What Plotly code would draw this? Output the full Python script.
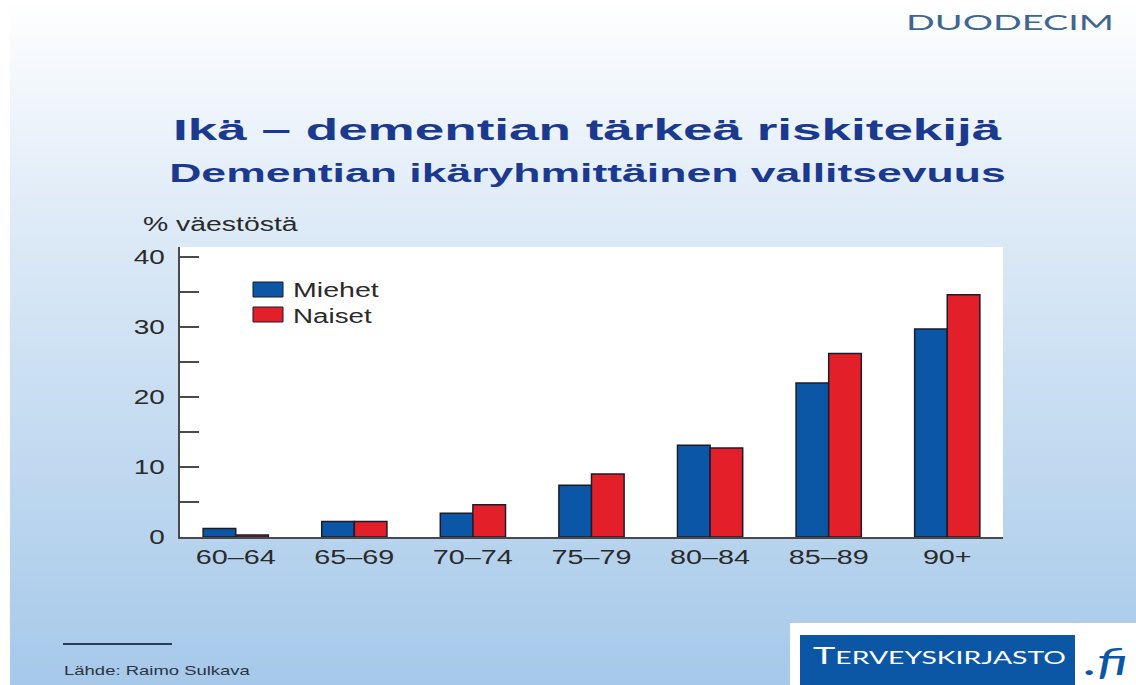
import json
import plotly.graph_objects as go

# ---- data ----
categories = ["60–64", "65–69", "70–74", "75–79", "80–84", "85–89", "90+"]
miehet = [1.2, 2.2, 3.4, 7.4, 13.1, 22.0, 29.7]
naiset = [0.3, 2.2, 4.6, 9.0, 12.7, 26.2, 34.6]
series_names = ["Miehet", "Naiset"]
y_tick_vals = [0, 5, 10, 15, 20, 25, 30, 35, 40]
y_tick_text = ["0", "", "10", "", "20", "", "30", "", "40"]

BLUE = "#0b57a6"
RED = "#e3202a"
OUTLINE = "#1b1b2b"
NAVY = "#1b3a8f"
TXT = "#2a2a2a"
SANS = "Liberation Sans, Arial, sans-serif"

W, H = 1136, 685
L, R, T, B = 180, 1003, 247, 537  # plot area pixel bounds


def px(xp):
    return (xp - L) / (R - L)


def py(yp):
    return (B - yp) / (B - T)


fig = go.Figure()
fig.add_trace(go.Bar(x=categories, y=miehet, name=series_names[0],
                     marker=dict(color=BLUE, line=dict(color=OUTLINE, width=1.5)),
                     showlegend=False))
fig.add_trace(go.Bar(x=categories, y=naiset, name=series_names[1],
                     marker=dict(color=RED, line=dict(color=OUTLINE, width=1.5)),
                     showlegend=False))

shapes = []
# background gradient (white at top -> light blue at bottom)
top_c = (255, 255, 255)
mid_c = (224, 236, 248)
bot_c = (166, 201, 234)
step = 5
for y0 in range(0, H, step):
    t = y0 / H
    if t < 0.3:
        f = t / 0.3
        c = tuple(int(top_c[i] + (mid_c[i] - top_c[i]) * f) for i in range(3))
    else:
        f = (t - 0.3) / 0.7
        c = tuple(int(mid_c[i] + (bot_c[i] - mid_c[i]) * f) for i in range(3))
    shapes.append(dict(type="rect", xref="paper", yref="paper",
                       x0=px(0), x1=px(W), y0=py(y0 + step + 1), y1=py(y0),
                       fillcolor="rgb(%d,%d,%d)" % c, line=dict(width=0), layer="below"))
# left white strip
shapes.append(dict(type="rect", xref="paper", yref="paper", x0=px(0), x1=px(10),
                   y0=py(H), y1=py(0), fillcolor="white", line=dict(width=0), layer="below"))
# white plot area
shapes.append(dict(type="rect", xref="paper", yref="paper", x0=0, x1=1, y0=0, y1=1,
                   fillcolor="white", line=dict(width=0), layer="below"))
# legend swatches
shapes.append(dict(type="rect", xref="paper", yref="paper", x0=px(253), x1=px(283),
                   y0=py(297), y1=py(282), fillcolor=BLUE, line=dict(color=OUTLINE, width=1)))
shapes.append(dict(type="rect", xref="paper", yref="paper", x0=px(253), x1=px(283),
                   y0=py(322), y1=py(307), fillcolor=RED, line=dict(color=OUTLINE, width=1)))
# source rule
shapes.append(dict(type="line", xref="paper", yref="paper", x0=px(63), x1=px(172),
                   y0=py(644), y1=py(644), line=dict(color="#2b3a58", width=2)))
# logo boxes
shapes.append(dict(type="rect", xref="paper", yref="paper", x0=px(790), x1=px(W),
                   y0=py(H), y1=py(623), fillcolor="white", line=dict(width=0)))
shapes.append(dict(type="rect", xref="paper", yref="paper", x0=px(800), x1=px(1075),
                   y0=py(H), y1=py(635), fillcolor=BLUE, line=dict(width=0)))

# (text, left px, centre y px, target width px, font)
texts = [
    ("Ikä – dementian tärkeä riskitekijä", 172, 130, 830,
     dict(family=SANS, size=29, color=NAVY, weight="bold")),
    ("Dementian ikäryhmittäinen vallitsevuus", 168, 173, 837,
     dict(family=SANS, size=25, color=NAVY, weight="bold")),
    ("% väestöstä", 142, 223, 155, dict(family=SANS, size=21, color=TXT)),
    (series_names[0], 292, 289, 86, dict(family=SANS, size=21, color=TXT)),
    (series_names[1], 292, 315, 79, dict(family=SANS, size=21, color=TXT)),
    ("DUODECIM", 905, 21, 208, dict(family="Lato, Open Sans", size=21, color="#3f6690")),
    ("Lähde: Raimo Sulkava", 63, 670, 187, dict(family=SANS, size=13, color="#2e3440")),
    ("T<span style='font-size:18px'>ERVEYSKIRJASTO</span>", 812, 654, 253,
     dict(family="Lato, Open Sans", size=24, color="white")),
    ("<i>.fi</i>", 1083, 661, 44, dict(family="Lato, Open Sans", size=36, color=BLUE)),
]
annotations = []
widths = []
for txt, x0, yc, wpx, fnt in texts:
    annotations.append(dict(text=txt, x=px(x0), y=py(yc), xref="paper", yref="paper",
                            xanchor="left", yanchor="middle", showarrow=False,
                            font=fnt, borderpad=0))
    widths.append(wpx)

fig.update_layout(
    width=W, height=H,
    margin=dict(l=L, r=W - R, t=T, b=H - B, pad=0),
    paper_bgcolor="#c6dcf1",
    plot_bgcolor="white",
    barmode="group",
    bargap=0.45,
    bargroupgap=0,
    shapes=shapes,
    annotations=annotations,
    font=dict(family=SANS, size=21, color=TXT),
)
fig.update_xaxes(range=[-0.47, 6.47], showline=True, linecolor="#4a4a4a", linewidth=2,
                 ticks="", showgrid=False, zeroline=False, ticklabelstandoff=0,
                 tickfont=dict(size=21, color=TXT))
fig.update_yaxes(range=[0, 41.4], tickvals=y_tick_vals, ticktext=y_tick_text,
                 ticks="inside", ticklen=19, tickwidth=2, tickcolor="#4a4a4a",
                 showline=True, linecolor="#4a4a4a", linewidth=2,
                 showgrid=False, zeroline=False, ticklabelstandoff=9,
                 tickfont=dict(size=21, color=TXT))

# the reference slide is horizontally stretched: widen text glyphs to match
post = """
document.body.style.margin='0px';
var gd = document.getElementById('{plot_id}');
var W = %s;
function stretch(el, s, mode) {
  var cur = el.getAttribute('transform') || '';
  if (el.__sx && cur === el.__sx) return;
  var b = el.getBBox();
  if (!b.width) return;
  if (s === null) s = 1;
  var ox = mode === 'left' ? b.x : (mode === 'right' ? b.x + b.width : b.x + b.width / 2);
  var nt = cur + ' translate(' + ox + ',0) scale(' + s + ',1) translate(' + (-ox) + ',0)';
  el.setAttribute('transform', nt);
  el.__sx = nt;
}
function applyAll() {
  gd.querySelectorAll('g.annotation').forEach(function (g) {
    var i = +g.getAttribute('data-index');
    var t = g.querySelector('text.annotation-text');
    if (!t || W[i] === undefined) return;
    var cur = t.getAttribute('transform') || '';
    if (t.__sx && cur === t.__sx) return;
    var b = t.getBBox();
    stretch(t, W[i] / b.width, 'left');
  });
  gd.querySelectorAll('g.xtick text').forEach(function (t) { stretch(t, 1.37, 'center'); });
  gd.querySelectorAll('g.ytick text').forEach(function (t) { stretch(t, 1.33, 'right'); });
}
applyAll();
setTimeout(applyAll, 50);
gd.on('plotly_afterplot', applyAll);
""" % json.dumps(widths)

fig.write_html("out.html", post_script=post, config={"displayModeBar": False})
